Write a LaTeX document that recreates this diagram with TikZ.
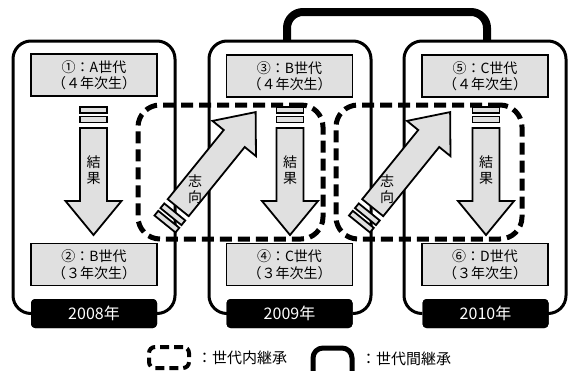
\documentclass[tikz,border=0pt]{standalone}
\usepackage{fontspec}
\setmainfont{Noto Sans CJK JP}
\usetikzlibrary{calc}
\newcommand{\fatarrow}[3]{%
  \begin{scope}[shift={#1}, rotate=#2]
    \draw[arrowline] (0,-13.5) rectangle (6,13.5);
    \draw[arrowline] (9.5,-13.5) rectangle (15.5,13.5);
    \draw[arrowline] (21,-13.5) -- ++(#3,0) -- ++(0,-14.5) -- ++(34,28) -- ++(-34,28) -- ++(0,-14.5) -- ++(-#3,0) -- cycle;
  \end{scope}}
\begin{document}
\begin{tikzpicture}[x=1pt,y=-1pt,
  frame/.style={line width=3pt, rounded corners=18pt},
  link/.style={line width=8pt, rounded corners=16pt},
  dashbox/.style={draw, line width=5pt, dash pattern=on 12pt off 6pt, rounded corners=22pt, inner sep=0pt},
  genbox/.style={draw, line width=1.8pt, fill=black!12, minimum width=126pt, minimum height=42pt, align=center, inner sep=0pt, font=\fontsize{14}{16.5}\selectfont},
  yearlabel/.style={fill=black, text=white, rounded corners=4pt, minimum width=126pt, minimum height=29pt, inner sep=0pt, font=\fontsize{16}{18}\selectfont},
  arrowline/.style={line width=1.8pt, fill=black!12, line join=miter},
  vlabel/.style={align=center, inner sep=0pt, font=\fontsize{14}{16}\selectfont},
  legend/.style={anchor=west, inner sep=0pt, font=\fontsize{15}{17}\selectfont}]
\useasboundingbox (0,0) rectangle (572,370);

% year labels
\node[yearlabel] (y1) at (94,313.5) {2008年};
\node[yearlabel] (y2) at (289.5,313.5) {2009年};
\node[yearlabel] (y3) at (485.5,313.5) {2010年};

% year frames
\draw[frame] (y1.west) -- (13,313.5) -- (13,41) -- (175,41) -- (175,313.5) -- (y1.east);
\draw[frame] (y2.west) -- (209,313.5) -- (209,41) -- (371,41) -- (371,313.5) -- (y2.east);
\draw[frame] (y3.west) -- (404,313.5) -- (404,41) -- (566,41) -- (566,313.5) -- (y3.east);
\node[yearlabel] at (y1) {2008年};
\node[yearlabel] at (y2) {2009年};
\node[yearlabel] at (y3) {2010年};

% link between frames
\coordinate (f2top) at (287,41);
\coordinate (f3top) at (487,41);
\coordinate (ltop) at (387,12);
\draw[link] (f2top) |- (ltop) -| (f3top);

% dashed (intra-generation) boxes
\node[dashbox, minimum width=185pt, minimum height=134pt] (d1) at (230.5,172) {};
\node[dashbox, minimum width=186pt, minimum height=134pt] (d2) at (429,172) {};

% generation boxes
\node[genbox] (g1) at (94,75) {①：A世代\\（４年次生）};
\node[genbox] (g2) at (94,264.5) {②：B世代\\（３年次生）};
\node[genbox] (g3) at (289.5,76) {③：B世代\\（４年次生）};
\node[genbox] (g4) at (289.5,264.5) {④：C世代\\（３年次生）};
\node[genbox] (g5) at (485,76) {⑤：C世代\\（４年次生）};
\node[genbox] (g6) at (485,264.5) {⑥：D世代\\（３年次生）};

% result arrows
\fatarrow{(93.5,107)}{-90}{73}
\fatarrow{(290,107)}{-90}{73}
\fatarrow{(486,107)}{-90}{73}
\node[vlabel] (r1) at (93.5,170) {結\\果};
\node[vlabel] (r2) at (290,170) {結\\果};
\node[vlabel] (r3) at (486,170) {結\\果};

% orientation arrows
\fatarrow{(165,224)}{51}{89}
\fatarrow{(359.5,224)}{51}{89}
\node[vlabel] (s1) at (195,189) {志\\向};
\node[vlabel] (s2) at (387,189) {志\\向};

% legend
\node[draw, line width=4pt, dash pattern=on 9pt off 5pt, rounded corners=6pt, minimum width=40pt, minimum height=21pt, inner sep=0pt] (ld) at (169,357.5) {};
\node[legend] (lt1) at (197,358) {：世代内継承};
\coordinate (la) at (313,372);
\coordinate (lb) at (352,372);
\coordinate (lc) at (332.5,348);
\draw[line width=5pt, rounded corners=10pt] (la) |- (lc) -| (lb);
\node[legend] (lt2) at (361,359) {：世代間継承};
\end{tikzpicture}
\end{document}
